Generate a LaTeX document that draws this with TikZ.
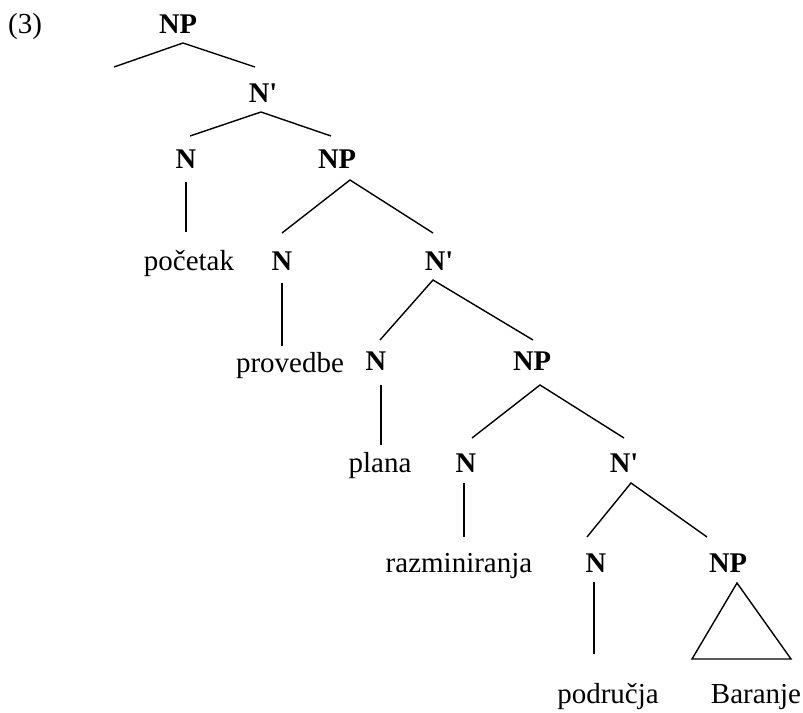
\documentclass[tikz,border=0pt]{standalone}
\usepackage{fontspec}
\setmainfont{Liberation Serif}
\usepackage{tikz}

\tikzset{
  cat/.style={font=\fontsize{28.5}{32}\selectfont\bfseries, anchor=base, inner sep=0pt},
  word/.style={font=\fontsize{29}{32}\selectfont, anchor=base, inner sep=0pt},
  branch/.style={line width=1.4pt}
}

\begin{document}
\begin{tikzpicture}[x=1pt, y=-1pt]
  \useasboundingbox (0,0) rectangle (803,712);
  \node[word] (ex) at (25,33) {(3)};
  % categories
  \node[cat] (np1) at (178,33) {NP};
  \node[cat] (nbar1) at (263,102) {N\textquotesingle};
  \node[cat] (n1) at (186,168) {N};
  \node[cat] (np2) at (337,168) {NP};
  \node[cat] (n2) at (282,270) {N};
  \node[cat] (nbar2) at (439,270) {N\textquotesingle};
  \node[cat] (n3) at (376,370) {N};
  \node[cat] (np3) at (532,370) {NP};
  \node[cat] (n4) at (466,472) {N};
  \node[cat] (nbar3) at (624,472) {N\textquotesingle};
  \node[cat] (n5) at (596,572) {N};
  \node[cat] (np4) at (728,572) {NP};
  % words
  \node[word] (pocetak) at (189,270) {početak};
  \node[word] (provedbe) at (290,372) {provedbe};
  \node[word] (plana) at (380,472) {plana};
  \node[word] (razminiranja) at (459,572) {razminiranja};
  \node[word] (podrucja) at (608,703) {područja};
  \node[word] (baranje) at (756,703) {Baranje};
  % branch points
  \coordinate (np1-t) at (183,43);
  \coordinate (np1-l) at (114,67);
  \coordinate (np1-r) at (255,67);
  \coordinate (nbar1-t) at (261,112);
  \coordinate (nbar1-l) at (190,136);
  \coordinate (nbar1-r) at (331,136);
  \coordinate (n1-t) at (186,182);
  \coordinate (n1-b) at (186,232);
  \coordinate (np2-t) at (350,180);
  \coordinate (np2-l) at (282,233);
  \coordinate (np2-r) at (433,233);
  \coordinate (n2-t) at (282,283);
  \coordinate (n2-b) at (282,346);
  \coordinate (nbar2-t) at (433,280);
  \coordinate (nbar2-l) at (380,340);
  \coordinate (nbar2-r) at (533,340);
  \coordinate (n3-t) at (381,385);
  \coordinate (n3-b) at (381,445);
  \coordinate (np3-t) at (540,385);
  \coordinate (np3-l) at (472,438);
  \coordinate (np3-r) at (624,438);
  \coordinate (n4-t) at (464,483);
  \coordinate (n4-b) at (464,537);
  \coordinate (nbar3-t) at (631,483);
  \coordinate (nbar3-l) at (587,537);
  \coordinate (nbar3-r) at (707,537);
  \coordinate (n5-t) at (594,582);
  \coordinate (n5-b) at (594,654);
  \coordinate (np4-t) at (737,583);
  \coordinate (np4-l) at (692,659);
  \coordinate (np4-r) at (791,659);
  % branches
  \draw[branch] (np1-l) -- (np1-t) -- (np1-r);
  \draw[branch] (nbar1-l) -- (nbar1-t) -- (nbar1-r);
  \draw[branch] (n1-t) -- (n1-b);
  \draw[branch] (np2-l) -- (np2-t) -- (np2-r);
  \draw[branch] (n2-t) -- (n2-b);
  \draw[branch] (nbar2-l) -- (nbar2-t) -- (nbar2-r);
  \draw[branch] (n3-t) -- (n3-b);
  \draw[branch] (np3-l) -- (np3-t) -- (np3-r);
  \draw[branch] (n4-t) -- (n4-b);
  \draw[branch] (nbar3-l) -- (nbar3-t) -- (nbar3-r);
  \draw[branch] (n5-t) -- (n5-b);
  \draw[branch] (np4-t) -- (np4-l) -- (np4-r) -- cycle;
\end{tikzpicture}
\end{document}
